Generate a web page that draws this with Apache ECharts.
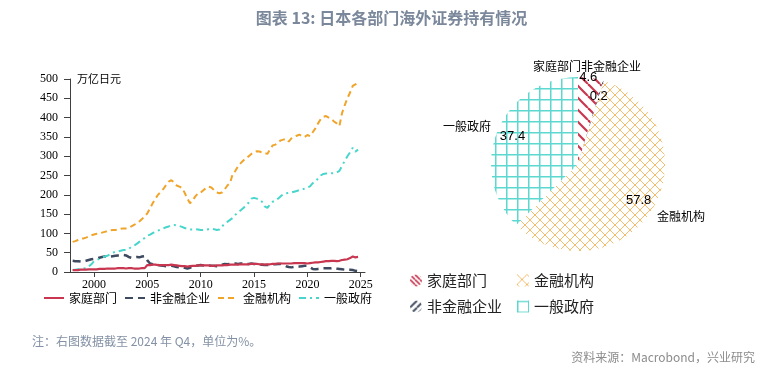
<!DOCTYPE html>
<html><head><meta charset="utf-8">
<script src="https://cdn.jsdelivr.net/npm/echarts@6.0.0/dist/echarts.min.js"></script>
<style>html,body{margin:0;padding:0;background:#fff}#c{width:783px;height:380px}</style>
</head><body><div id="c"></div><script>
// ---- data ----
const startYear = 1998, endYear = 2024; // quarterly, 1998Q1..2024Q4
const seriesNames = ['家庭部门', '非金融企业', '金融机构', '一般政府'];
const household = [
  5,5,5,6, 6,6,7,7, 7,7,8,8, 8,9,9,9, 9,10,10,10, 9,10,10,9, 9,9,10,10,
  18,18,19,19, 18,18,18,18, 18,19,18,17, 16,15,15,14, 15,16,16,17, 17,17,17,17,
  16,16,17,17, 17,18,18,19, 19,19,19,20, 20,20,20,21, 21,21,20,20, 19,20,20,21,
  21,22,22,22, 22,22,22,23, 23,23,23,23, 22,23,24,25, 25,26,27,28, 28,29,29,28,
  29,31,32,33, 36,40,38,39
];
const nonFinancial = [
  29,28,28,27, 27,29,31,33, 34,35,37,39, 40,41,40,41, 42,43,44,44, 43,39,37,38, 39,38,40,41,
  30,22,20,19, 18,17,16,15, 15,16,15,13, 12,13,11,9, 11,14,16,17, 18,17,16,17,
  16,16,15,18, 19,21,20,21, 22,22,21,22, 22,21,21,22, 21,20,19,19, 18,18,19,20,
  20,21,21,18, 15,13,12,13, 13,14,15,16, 16,12,8,7, 8,9,10,10, 10,10,11,9,
  8,7,6,7, 6,5,3,2
];
const financial = [
  78,80,83,86, 87,89,92,95, 97,99,100,102, 104,106,108,109, 109,110,112,113, 113,115,118,122, 126,131,137,145,
  152,165,178,190, 200,208,215,225, 234,238,232,224, 221,218,205,190, 178,186,196,204, 206,212,217,221,
  219,212,206,204, 206,214,224,230, 254,262,274,282, 289,294,300,306, 310,313,312,310, 308,306,318,328,
  330,336,341,343, 345,338,346,350, 353,356,352,350, 355,352,362,372, 385,396,402,404, 400,396,390,385,
  378,412,432,450, 465,482,486,490
];
const government = [
  5,6,7,8, 9,10,14,20, 28,31,34,37, 40,42,46,50, 52,53,55,57, 57,60,65,68, 73,78,84,88,
  94,97,101,104, 107,110,113,116, 118,121,122,121, 119,117,114,112, 110,110,111,110, 109,109,110,111,
  112,111,109,110, 118,125,130,135, 140,148,155,160, 166,172,180,190, 192,190,188,182, 170,166,175,182,
  185,190,196,202, 204,205,206,208, 210,212,214,216, 219,222,230,236, 242,250,254,255, 255,256,256,258,
  262,275,288,300, 310,322,312,317
];
const xTickYears = [2000, 2005, 2010, 2015, 2020, 2025];
const yTicks = { min: 0, max: 500, interval: 50 };
const pieNames = ['家庭部门', '非金融企业', '金融机构', '一般政府'];
const pieValues = [4.6, 0.2, 57.8, 37.4];

// ---- helpers ----
const quarterTimes = [];
for (let y = startYear; y <= endYear; y++) for (let q = 0; q < 4; q++) quarterTimes.push(y + q / 4);
const pairs = arr => arr.map((v, i) => [quarterTimes[i], v]);

function makePattern(size, draw) {
  const c = document.createElement('canvas');
  c.width = size; c.height = size;
  const g = c.getContext('2d');
  g.fillStyle = '#fff'; g.fillRect(0, 0, size, size);
  draw(g, size);
  return { image: c, repeat: 'repeat' };
}
function diag(g, s, dir) {
  for (const k of [-s, 0, s]) {
    g.beginPath();
    if (dir === '\\') { g.moveTo(k, 0); g.lineTo(k + s, s); }
    else { g.moveTo(k, s); g.lineTo(k + s, 0); }
    g.stroke();
  }
}
const patHousehold = makePattern(12, (g, s) => { g.strokeStyle = '#c8374f'; g.lineWidth = 2.2; diag(g, s, '\\'); });
const patNonFin = makePattern(7, (g, s) => { g.strokeStyle = '#4a5568'; g.lineWidth = 2; diag(g, s, '/'); });
const patFin = makePattern(10, (g, s) => { g.strokeStyle = '#f4bd6e'; g.lineWidth = 1; diag(g, s, '\\'); diag(g, s, '/'); });
const patGov = makePattern(11, (g, s) => { g.fillStyle = '#5cd8d0'; g.fillRect(0, 0, s, 1.5); g.fillRect(0, 0, 1.5, s); });
const patHouseholdIcon = makePattern(5, (g, s) => { g.strokeStyle = '#c8374f'; g.lineWidth = 1.6; diag(g, s, '\\'); });
const piePatterns = [patHousehold, patNonFin, patFin, patGov];
const legendPatterns = [patHouseholdIcon, patNonFin, patFin, patGov];
const pieIcons = ['circle', 'circle', 'rect', 'rect'];

const lineColors = ['#c8374f', '#3e4a60', '#f0a42a', '#48d6cc'];
const lineDash = ['solid', [8, 5], [6, 4], [7, 4, 2, 4]];
const lineWidth = [2.2, 2.5, 2, 2];
const lineData = [household, nonFinancial, financial, government];

const cjk = '"Noto Sans CJK SC", sans-serif';
const serif = '"Liberation Serif", "DejaVu Serif", serif';

const namePos = [[533, 66], [581, 66], [657, 216], [443, 126]];

const chart = echarts.init(document.getElementById('c'), null, { renderer: 'canvas' });
const option = {
  animation: false,
  backgroundColor: '#fff',
  title: [
    { text: '图表 13: 日本各部门海外证券持有情况', left: 'center', top: 10, padding: 0,
      textStyle: { fontSize: 16, fontWeight: 'bold', color: '#7b889b', fontFamily: cjk } },
    { text: '注：右图数据截至 2024 年 Q4，单位为%。', left: 32, top: 335, padding: 0,
      textStyle: { fontSize: 12, fontWeight: 'normal', color: '#8391a5', fontFamily: cjk } },
    { text: '资料来源：Macrobond，兴业研究', right: 28, top: 351, padding: 0,
      textStyle: { fontSize: 12, fontWeight: 'normal', color: '#8c8c8c', fontFamily: cjk } }
  ],
  grid: { left: 70, top: 79, right: 418, bottom: 108, containLabel: false },
  xAxis: {
    type: 'value', min: 1997.75, max: 2025.4,
    axisLine: { lineStyle: { color: '#404040', width: 1 } },
    axisTick: { show: true, length: 5, customValues: xTickYears, lineStyle: { color: '#404040' } },
    axisLabel: { customValues: xTickYears, margin: 7, fontSize: 12, color: '#000', fontFamily: serif, formatter: v => String(v) },
    splitLine: { show: false }
  },
  yAxis: {
    type: 'value', min: yTicks.min, max: yTicks.max, interval: yTicks.interval,
    name: '万亿日元', nameLocation: 'end', nameGap: 0,
    nameTextStyle: { align: 'left', verticalAlign: 'middle', padding: [0, 0, 0, 7], fontSize: 11, color: '#000', fontFamily: cjk },
    axisLine: { show: true, lineStyle: { color: '#404040', width: 1 } },
    axisTick: { show: true, length: 6, lineStyle: { color: '#404040' } },
    axisLabel: { margin: 12, fontSize: 12, color: '#000', fontFamily: serif },
    splitLine: { show: false }
  },
  legend: [
    { data: seriesNames, left: 43, top: 292, padding: 0, itemGap: 7, itemWidth: 20, itemHeight: 12,
      itemStyle: { opacity: 0 },
      textStyle: { fontSize: 12, color: '#000', fontFamily: cjk } },
    { orient: 'vertical', left: 410, top: 273, padding: 0, itemGap: 11, itemWidth: 12, itemHeight: 12,
      textStyle: { fontSize: 15, color: '#222', fontFamily: cjk },
      data: [0, 1].map(i => ({ name: pieNames[i], icon: pieIcons[i],
        itemStyle: { color: legendPatterns[i], borderWidth: 0, borderColor: 'transparent', opacity: 1 } })) },
    { orient: 'vertical', left: 517, top: 273, padding: 0, itemGap: 11, itemWidth: 12, itemHeight: 12,
      textStyle: { fontSize: 15, color: '#222', fontFamily: cjk },
      data: [2, 3].map(i => ({ name: pieNames[i], icon: pieIcons[i],
        itemStyle: { color: legendPatterns[i], borderWidth: 0, borderColor: 'transparent', opacity: 1 } })) }
  ],
  series: [
    ...seriesNames.map((n, i) => ({
      name: n, type: 'line', data: pairs(lineData[i]), symbol: 'none', showSymbol: false,
      lineStyle: { color: lineColors[i], width: lineWidth[i], type: lineDash[i] },
      itemStyle: { color: lineColors[i] }, z: i === 0 ? 5 : 3
    })),
    {
      type: 'pie', center: [578, 164], radius: [0, 87], startAngle: 90, clockwise: true,
      avoidLabelOverlap: false, silent: true,
      data: pieNames.map((n, i) => ({ name: n, value: pieValues[i], itemStyle: { color: piePatterns[i] } })),
      label: { show: true, position: 'outside', formatter: '{b}', fontSize: 12, color: '#000', fontFamily: cjk },
      labelLine: { show: false },
      labelLayout: p => ({ x: namePos[p.dataIndex][0], y: namePos[p.dataIndex][1], align: 'left', verticalAlign: 'middle' })
    },
    {
      type: 'pie', center: [578, 164], radius: [49, 87], startAngle: 90, clockwise: true,
      avoidLabelOverlap: false, silent: true, legendHoverLink: false,
      data: pieNames.map((n, i) => ({ name: n + ' ', value: pieValues[i] })),
      itemStyle: { color: 'rgba(0,0,0,0)' },
      label: { show: true, position: 'inside', formatter: '{c}', fontSize: 13, color: '#000', fontFamily: '"Liberation Sans", Arial, sans-serif' },
      labelLine: { show: false },
      labelLayout: p => (p.dataIndex === 0 ? { dy: -16 } : {})
    }
  ]
};
chart.setOption(option);
</script></body></html>
